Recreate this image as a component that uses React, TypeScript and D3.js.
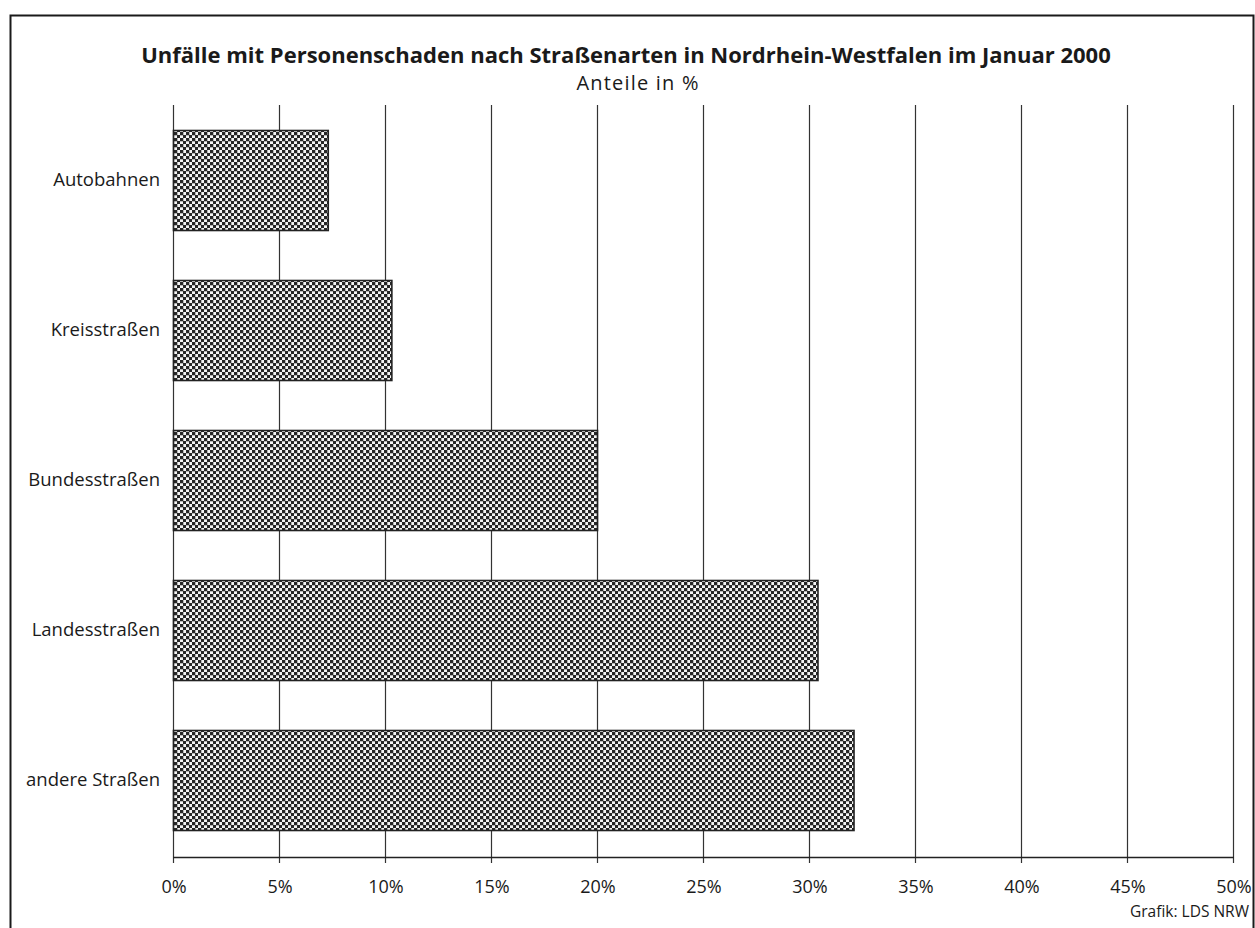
import * as d3 from "d3";
import React, { useEffect, useRef } from "react";

const categories = [
  "Autobahnen",
  "Kreisstraßen",
  "Bundesstraßen",
  "Landesstraßen",
  "andere Straßen",
];
const shares = [7.3, 10.3, 20.0, 30.4, 32.1];
const tickValues = [0, 5, 10, 15, 20, 25, 30, 35, 40, 45, 50];

const TITLE = "Unfälle mit Personenschaden nach Straßenarten in Nordrhein-Westfalen im Januar 2000";
const SUBTITLE = "Anteile in %";
const SOURCE = "Grafik: LDS NRW";

const W = 1255;
const H = 928;
const FONT = "'Open Sans', 'Noto Sans', sans-serif";
const margin = { left: 173, right: 22, top: 105, bottom: 71 };

const App: React.FC = () => {
  const svgRef = useRef<SVGSVGElement>(null);

  useEffect(() => {
    const svg = d3.select(svgRef.current);
    svg.selectAll("*").remove();

    const x = d3
      .scaleLinear()
      .domain([0, 50])
      .range([margin.left, W - margin.right]);
    const y = d3
      .scaleBand()
      .domain(categories)
      .range([margin.top, H - margin.bottom - 2])
      .paddingInner(1 / 3)
      .paddingOuter(1 / 6);

    // checkerboard raster like the printed hatch
    const pat = svg
      .append("defs")
      .append("pattern")
      .attr("id", "raster")
      .attr("patternUnits", "userSpaceOnUse")
      .attr("width", 6)
      .attr("height", 6);
    pat.append("rect").attr("width", 6).attr("height", 6).attr("fill", "#f4f4f4");
    pat.append("rect").attr("width", 3.3).attr("height", 3.3).attr("fill", "#262626");
    pat
      .append("rect")
      .attr("x", 3)
      .attr("y", 3)
      .attr("width", 3.3)
      .attr("height", 3.3)
      .attr("fill", "#262626");

    // frame
    svg
      .append("path")
      .attr("d", `M10.5,${H} L10.5,15.5 L1253.5,15.5 L1253.5,${H}`)
      .attr("fill", "none")
      .attr("stroke", "#1a1a1a")
      .attr("stroke-width", 2);

    svg
      .append("text")
      .attr("x", 626)
      .attr("y", 63)
      .attr("text-anchor", "middle")
      .attr("font-family", FONT)
      .attr("font-weight", 700)
      .attr("font-size", 22)
      .attr("fill", "#1a1a1a")
      .text(TITLE);
    svg
      .append("text")
      .attr("x", 638)
      .attr("y", 90)
      .attr("text-anchor", "middle")
      .attr("font-family", FONT)
      .attr("font-size", 20)
      .attr("letter-spacing", 1.2)
      .attr("fill", "#1a1a1a")
      .text(SUBTITLE);

    const axisY = H - margin.bottom;

    // vertical grid
    svg
      .append("g")
      .selectAll("line")
      .data(tickValues)
      .enter()
      .append("line")
      .attr("x1", (d) => x(d) + 0.5)
      .attr("x2", (d) => x(d) + 0.5)
      .attr("y1", margin.top)
      .attr("y2", axisY + 6)
      .attr("stroke", "#333")
      .attr("stroke-width", 1.2);

    // x axis line + labels
    svg
      .append("line")
      .attr("x1", x(0))
      .attr("x2", x(50) + 1)
      .attr("y1", axisY + 0.5)
      .attr("y2", axisY + 0.5)
      .attr("stroke", "#222")
      .attr("stroke-width", 1.5);

    svg
      .append("g")
      .selectAll("text")
      .data(tickValues)
      .enter()
      .append("text")
      .attr("x", (d) => x(d) + 1)
      .attr("y", axisY + 36)
      .attr("text-anchor", "middle")
      .attr("font-family", FONT)
      .attr("font-size", 18)
      .attr("fill", "#1a1a1a")
      .text((d) => `${d}%`);

    // bars
    svg
      .append("g")
      .selectAll("rect")
      .data(shares)
      .enter()
      .append("rect")
      .attr("x", x(0) + 0.5)
      .attr("y", (_, i) => (y(categories[i]) as number) + 0.5)
      .attr("width", (d) => x(d) - x(0))
      .attr("height", y.bandwidth())
      .attr("fill", "url(#raster)")
      .attr("stroke", "#222")
      .attr("stroke-width", 1.6);

    // category labels
    svg
      .append("g")
      .selectAll("text")
      .data(categories)
      .enter()
      .append("text")
      .attr("x", margin.left - 13)
      .attr("y", (d) => (y(d) as number) + y.bandwidth() / 2)
      .attr("dy", "0.35em")
      .attr("text-anchor", "end")
      .attr("font-family", FONT)
      .attr("font-size", 18.5)
      .attr("fill", "#1a1a1a")
      .text((d) => d);

    svg
      .append("text")
      .attr("x", 1249)
      .attr("y", 917)
      .attr("text-anchor", "end")
      .attr("font-family", FONT)
      .attr("font-size", 15.5)
      .attr("fill", "#1a1a1a")
      .text(SOURCE);
  }, []);

  return (
    <svg
      ref={svgRef}
      width={W}
      height={H}
      style={{ position: "absolute", left: 0, top: 0, background: "#fff" }}
    />
  );
};

export default App;
